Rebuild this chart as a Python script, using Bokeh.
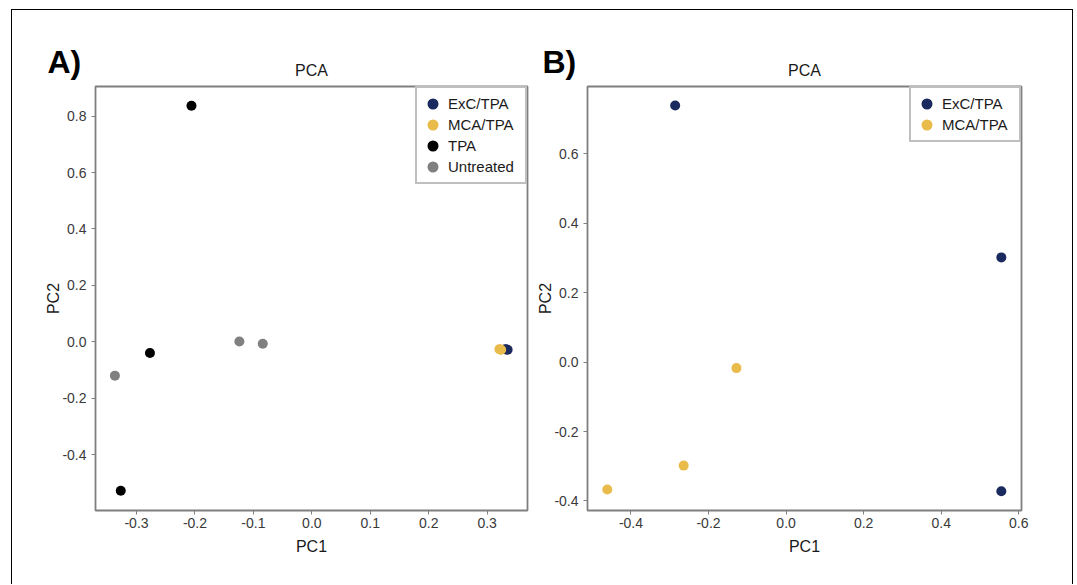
from bokeh.plotting import figure
from bokeh.layouts import row
from bokeh.models import (Legend, LegendItem, FixedTicker, PrintfTickFormatter,
                          Title, Range1d)
from bokeh.embed import file_html
from bokeh.resources import INLINE

# ---------------- data ----------------
groups = ["ExC/TPA", "MCA/TPA", "TPA", "Untreated"]
group_colors = ["#1b2a5e", "#e9bb4b", "#000000", "#808080"]

# Panel A
a_exc_x = [0.331, 0.333, 0.335]
a_exc_y = [-0.026, -0.027, -0.028]
a_mca_x = [0.321, 0.322, 0.324]
a_mca_y = [-0.026, -0.027, -0.028]
a_tpa_x = [-0.206, -0.277, -0.327]
a_tpa_y = [0.837, -0.040, -0.528]
a_unt_x = [-0.337, -0.124, -0.084]
a_unt_y = [-0.120, 0.001, -0.007]

# Panel B
b_exc_x = [-0.286, 0.555, 0.555]
b_exc_y = [0.740, 0.302, -0.372]
b_mca_x = [-0.128, -0.264, -0.461]
b_mca_y = [-0.017, -0.298, -0.367]

a_xticks = [-0.3, -0.2, -0.1, 0.0, 0.1, 0.2, 0.3]
a_yticks = [-0.4, -0.2, 0.0, 0.2, 0.4, 0.6, 0.8]
b_xticks = [-0.4, -0.2, 0.0, 0.2, 0.4, 0.6]
b_yticks = [-0.4, -0.2, 0.0, 0.2, 0.4, 0.6]

FONT = "Liberation Sans"
NAN = float("nan")


def make_panel(letter, width, mbl, mbr, xr, yr, xticks, yticks, series, label_w, letter_off):
    p = figure(width=width, height=574, x_range=Range1d(*xr), y_range=Range1d(*yr),
               output_backend="svg", toolbar_location=None,
               min_border_left=mbl, min_border_right=mbr,
               min_border_top=76, min_border_bottom=74)
    # panel letter (outer title)
    p.title.text = letter
    p.title.align = "left"
    p.title.offset = letter_off
    p.title.standoff = -54
    p.title.text_font = FONT
    p.title.text_font_size = "32px"
    p.title.text_font_style = "bold"
    p.title.text_color = "#000000"
    # "PCA" title (inner)
    p.add_layout(Title(text="PCA", align="center", text_font=FONT, text_font_size="16px",
                       text_font_style="normal", text_color="#1a1a1a", standoff=15),
                 "above")

    p.grid.visible = False
    p.outline_line_color = "#7f7f7f"
    p.outline_line_width = 1.8
    p.background_fill_color = "white"
    p.border_fill_color = "white"

    for ax, ticks in ((p.xaxis[0], xticks), (p.yaxis[0], yticks)):
        ax.ticker = FixedTicker(ticks=ticks)
        ax.formatter = PrintfTickFormatter(format="%.1f")
        ax.axis_line_color = None
        ax.major_tick_line_color = "#7f7f7f"
        ax.major_tick_line_width = 1
        ax.major_tick_out = 4
        ax.major_tick_in = 0
        ax.minor_tick_line_color = None
        ax.major_label_text_font = FONT
        ax.major_label_text_font_size = "14px"
        ax.major_label_text_color = "#3a3a3a"
        ax.axis_label_text_font = FONT
        ax.axis_label_text_font_size = "16px"
        ax.axis_label_text_font_style = "normal"
        ax.axis_label_text_color = "#1a1a1a"
    p.xaxis.axis_label = "PC1"
    p.yaxis.axis_label = "PC2"
    p.xaxis.major_label_standoff = 3
    p.yaxis.major_label_standoff = 5
    p.xaxis.axis_label_standoff = 7
    p.yaxis.axis_label_standoff = -3

    items = []
    for name, xs, ys, col in series:
        p.scatter(xs, ys, size=10, fill_color=col, line_color=None)
    for name, xs, ys, col in series:
        # off-screen (NaN) renderer used only to draw a larger legend swatch
        lr = p.scatter([NAN], [NAN], fill_color=col, line_color=col, line_width=2.6)
        items.append((name, lr))
    order = {g: i for i, g in enumerate(groups)}
    items.sort(key=lambda t: order[t[0]])

    legend = Legend(items=[LegendItem(label=n, renderers=[r]) for n, r in items],
                    location="top_right", margin=0, padding=5,
                    spacing=0, glyph_width=21, glyph_height=21, label_height=21,
                    label_standoff=5, label_width=label_w,
                    label_text_font=FONT, label_text_font_size="15px",
                    label_text_color="#1a1a1a",
                    border_line_color="#7f7f7f", border_line_width=2,
                    background_fill_color="white", background_fill_alpha=1.0)
    p.add_layout(legend, "center")
    return p


pA = make_panel("A)", 520, 83, 5, (-0.3702, 0.3690), (-0.598, 0.905),
                a_xticks, a_yticks,
                [("ExC/TPA", a_exc_x, a_exc_y, group_colors[0]),
                 ("MCA/TPA", a_mca_x, a_mca_y, group_colors[1]),
                 ("TPA", a_tpa_x, a_tpa_y, group_colors[2]),
                 ("Untreated", a_unt_x, a_unt_y, group_colors[3])], 72, -48)

pB = make_panel("B)", 540, 55, 51, (-0.512, 0.607), (-0.4274, 0.7945),
                b_xticks, b_yticks,
                [("ExC/TPA", b_exc_x, b_exc_y, group_colors[0]),
                 ("MCA/TPA", b_mca_x, b_mca_y, group_colors[1])], 72, -45)

layout = row(pA, pB, margin=(9, 0, 0, 11),
             styles={"border-left": "1px solid #000", "border-top": "1px solid #000",
                     "border-right": "1px solid #000"})

open("out.html", "w").write(file_html(layout, INLINE))
